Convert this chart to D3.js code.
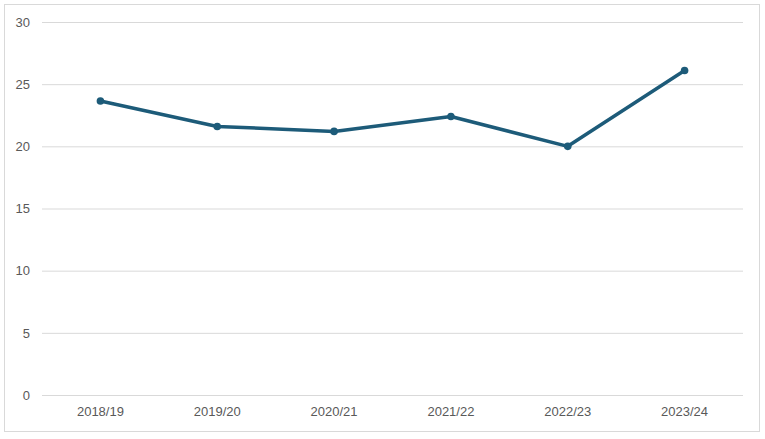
<!DOCTYPE html>
<html>
<head>
<meta charset="utf-8">
<script src="https://cdn.jsdelivr.net/npm/d3@7"></script>
<style>
  body { margin:0; background:#fff; }
  text { font-family: "Liberation Sans", Arial, sans-serif; }
</style>
</head>
<body>
<div class="canvas"></div>
<script>
// data
const years = ['2018/19', '2019/20', '2020/21', '2021/22', '2022/23', '2023/24'];
const values = [23.65, 21.6, 21.2, 22.4, 20.0, 26.1];
const yTicks = [0, 5, 10, 15, 20, 25, 30];

const dims = { width:765, height:439 };
const plot = { left:42, right:743, top:22, bottom:395 };

const svg = d3.select('.canvas')
.append('svg')
.attr('width', dims.width)
.attr('height', dims.height);

// outer frame
svg.append('rect')
.attr('x', 4.5).attr('y', 4.5)
.attr('width', 755).attr('height', 427)
.attr('fill', '#fff')
.attr('stroke', '#d9d9d9')
.attr('stroke-width', 1);

const x = d3.scaleBand()
.domain(years)
.range([plot.left, plot.right]);

const y = d3.scaleLinear()
.domain([0, 30])
.range([plot.bottom, plot.top]);

// gridlines + y labels
const yAxis = d3.axisLeft(y)
.tickValues(yTicks)
.tickSize(-(plot.right - plot.left))
.tickPadding(12)
.tickFormat(d3.format('d'));

const yG = svg.append('g')
.attr('transform', `translate(${plot.left},0)`)
.call(yAxis);
yG.select('.domain').remove();
yG.selectAll('line').attr('stroke', '#d9d9d9');
yG.selectAll('text').attr('fill', '#595959').style('font-size', '13px');

// x labels
const xAxis = d3.axisBottom(x).tickSize(0).tickPadding(12);
const xG = svg.append('g')
.attr('transform', `translate(0,${plot.bottom})`)
.call(xAxis);
xG.select('.domain').remove();
xG.selectAll('text').attr('fill', '#595959').style('font-size', '13px');

const line = d3.line()
.x((d, i) => x(years[i]) + x.bandwidth() / 2)
.y(d => y(d));

svg.append('path')
.datum(values)
.attr('d', line)
.attr('fill', 'none')
.attr('stroke', '#1d5b79')
.attr('stroke-width', 3.5)
.attr('stroke-linejoin', 'round');

svg.selectAll('circle.pt')
.data(values)
.enter()
.append('circle')
.attr('class', 'pt')
.attr('cx', (d, i) => x(years[i]) + x.bandwidth() / 2)
.attr('cy', d => y(d))
.attr('r', 3.8)
.attr('fill', '#1d5b79');
</script>
</body>
</html>
